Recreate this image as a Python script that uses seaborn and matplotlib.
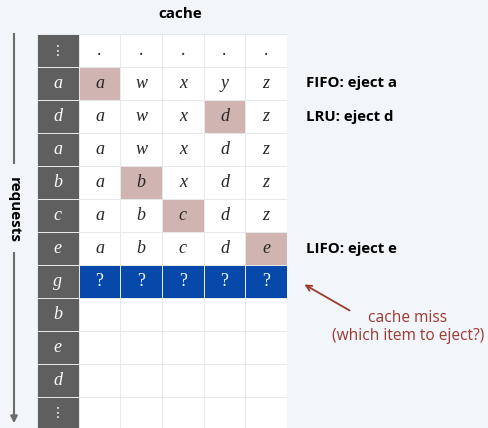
import numpy as np
import seaborn as sns
import matplotlib.pyplot as plt
from matplotlib.colors import ListedColormap

# request sequence (left column) and cache contents after each request
requests = ['⋮', 'a', 'd', 'a', 'b', 'c', 'e', 'g', 'b', 'e', 'd', '⋮']
cache = [
    ['.', '.', '.', '.', '.'],
    ['a', 'w', 'x', 'y', 'z'],
    ['a', 'w', 'x', 'd', 'z'],
    ['a', 'w', 'x', 'd', 'z'],
    ['a', 'b', 'x', 'd', 'z'],
    ['a', 'b', 'c', 'd', 'z'],
    ['a', 'b', 'c', 'd', 'e'],
    ['?', '?', '?', '?', '?'],
    ['', '', '', '', ''],
    ['', '', '', '', ''],
    ['', '', '', '', ''],
    ['', '', '', '', ''],
]
# (row, col) of the cell touched by each request (hit or insert)
highlight = [(1, 0), (2, 3), (4, 1), (5, 2), (6, 4)]
miss_row = 7
notes = {1: 'FIFO: eject a', 2: 'LRU: eject d', 6: 'LIFO: eject e'}

bg = '#f2f5f9'
pink = '#cfb4b1'
blue = '#0748ab'
gray = '#5f5f5f'
red = '#9c3a30'

# codes: 0 white, 1 highlight, 2 miss, 3 request column
codes = np.zeros((len(requests), 6))
codes[:, 0] = 3
for r, c in highlight:
    codes[r, c + 1] = 1
codes[miss_row, 1:] = 2
labels = np.array([[q] + row for q, row in zip(requests, cache)])

fig = plt.figure(figsize=(4.88, 4.28), dpi=100, facecolor=bg)
ax = fig.add_axes([37 / 488, 1 - 430 / 428, 250 / 488, 396 / 428])

sns.heatmap(codes, ax=ax, cmap=ListedColormap(['white', pink, blue, gray]),
            vmin=-0.5, vmax=3.5, cbar=False, annot=labels, fmt='',
            linewidths=0.7, linecolor='#e6e8eb',
            annot_kws={'fontfamily': 'Liberation Serif', 'fontstyle': 'italic',
                       'fontsize': 13})
ax.set_xticks([])
ax.set_yticks([])
for t in ax.texts:
    if t.get_text() == '⋮':
        t.set_fontfamily('DejaVu Sans')
        t.set_fontstyle('normal')
        t.set_fontsize(10)
    elif t.get_text() in ('?', '.'):
        t.set_fontstyle('normal')

sans = ['Open Sans', 'DejaVu Sans']
fig.text(180 / 488, 1 - 14 / 428, 'cache', ha='center', va='center',
         fontsize=11, fontweight='bold', family=sans)
for r, s in notes.items():
    ax.text(6.45, r + 0.5, s, ha='left', va='center', fontsize=10.8,
            fontweight='bold', family=sans, clip_on=False)

ax.annotate('', xy=(6.36, miss_row + 0.55), xytext=(7.56, miss_row + 1.42),
            arrowprops=dict(arrowstyle='->', color=red, lw=1.3), annotation_clip=False)
ax.text(8.9, miss_row + 1.88, 'cache miss\n(which item to eject?)', ha='center',
        va='center', color=red, fontsize=11.2, family=sans, linespacing=1.2,
        clip_on=False)

# requests arrow on the left
fig.add_artist(plt.Line2D([14 / 488, 14 / 488], [1 - 34 / 428, 1 - 163 / 428],
                          color='#6b6b6b', lw=1.5))
fig.add_artist(plt.Line2D([14 / 488, 14 / 488], [1 - 253 / 428, 1 - 420 / 428],
                          color='#6b6b6b', lw=1.5))
ax.annotate('', xy=(14, 2), xytext=(14, 20), xycoords='figure pixels',
            arrowprops=dict(arrowstyle='-|>', color='#6b6b6b', lw=1.5,
                            mutation_scale=10))
fig.text(14 / 488, 1 - 210 / 428, 'requests', rotation=270, ha='center',
         va='center', fontsize=11, fontweight='bold', family=sans)

fig.savefig('out.png', dpi=100, facecolor=bg)
